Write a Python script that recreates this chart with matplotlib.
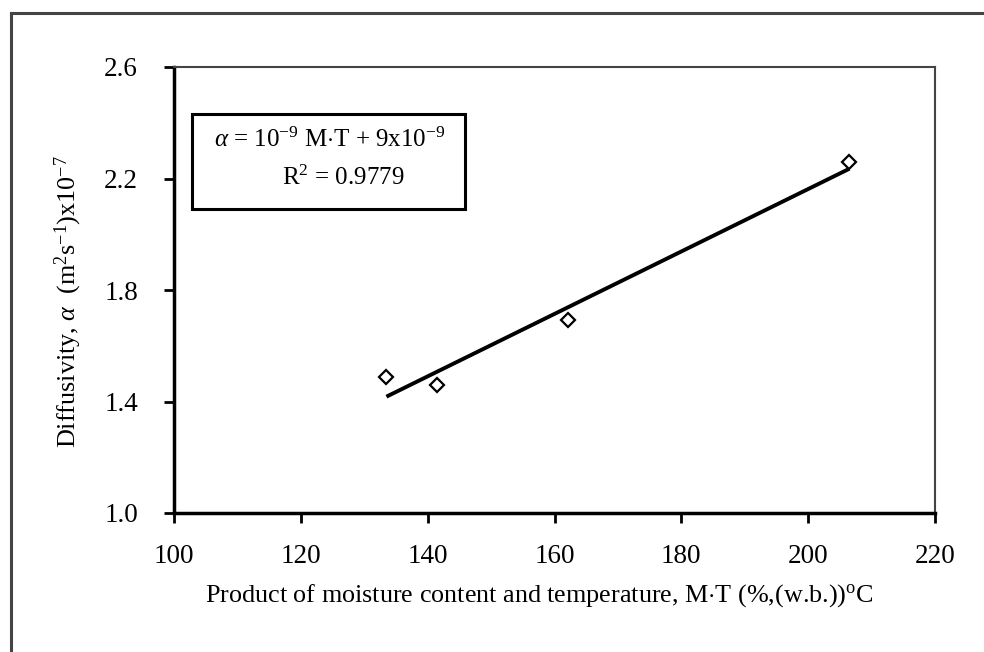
import numpy as np
import matplotlib
matplotlib.use('Agg')
import matplotlib.pyplot as plt
from matplotlib.lines import Line2D
from matplotlib.patches import Rectangle

# values
mt = [133.5, 141.4, 162.1, 206.5]
diffusivity = [1.487, 1.459, 1.692, 2.258]
x_ticks = [100, 120, 140, 160, 180, 200, 220]
y_ticks = [1.0, 1.4, 1.8, 2.2, 2.6]
equation = r'$\alpha$ = 10$^{-9}$ M$\cdot$T + 9x10$^{-9}$'
r2_text = r'R$^2$ = 0.9779'

plt.rcParams['font.family'] = ['Liberation Serif', 'DejaVu Serif']
plt.rcParams['mathtext.fontset'] = 'custom'
plt.rcParams['mathtext.rm'] = 'Liberation Serif'
plt.rcParams['mathtext.it'] = 'Liberation Serif:italic'

fig = plt.figure(figsize=(9.84, 6.52), dpi=100)
W, H = 984, 652
ax = fig.add_axes([174 / W, 1 - 513 / H, (935 - 174) / W, (513 - 67) / H])

# fitted trend line
coef = np.polyfit(mt, diffusivity, 1)
xs = np.array([min(mt), max(mt)])
ax.plot(xs, np.polyval(coef, xs), color='black', lw=2.8, solid_capstyle='butt')
ax.plot(mt, diffusivity, linestyle='none', marker='D', markersize=7,
        markerfacecolor='white', markeredgecolor='black', markeredgewidth=1.6)

ax.set_xlim(100, 220)
ax.set_ylim(1.0, 2.6)
ax.set_xticks(x_ticks)
ax.set_yticks(y_ticks)
ax.set_yticklabels([f'{v:.1f}' for v in y_ticks])
ax.tick_params(direction='out', length=7, width=2, labelsize=19.5, color='black')
ax.tick_params(axis='y', pad=19)
ax.tick_params(axis='x', pad=15)

for s in ['left', 'bottom']:
    ax.spines[s].set_linewidth(2.5)
    ax.spines[s].set_color('black')
for s in ['top', 'right']:
    ax.spines[s].set_linewidth(1.5)
    ax.spines[s].set_color('#444444')

ax.set_xlabel('Product of moisture content and temperature, M$\\cdot$T (%,(w.b.))$^{\\mathrm{o}}$C',
              fontsize=18.8)
ax.xaxis.set_label_coords(0.48, -0.155)
ax.set_ylabel(r'Diffusivity, $\alpha$  (m$^2$s$^{-1}$)x10$^{-7}$', fontsize=18.8)
ax.yaxis.set_label_coords(-0.118, 0.475)

# equation box
box = Rectangle((192 / W, 1 - 209 / H), (465 - 192) / W, (209 - 114) / H,
                transform=fig.transFigure, fill=False, edgecolor='black', lw=2.2)
fig.patches.append(box)
fig.text(330 / W, 1 - 140 / H, equation, ha='center', va='center', fontsize=18)
fig.text(343 / W, 1 - 178 / H, r2_text, ha='center', va='center', fontsize=18)

# outer frame (cut off at right and bottom)
fig.lines.append(Line2D([11 / W, 11 / W], [0, 1 - 13 / H], transform=fig.transFigure,
                        color='#444444', lw=2.2))
fig.lines.append(Line2D([11 / W, 1], [1 - 13 / H, 1 - 13 / H], transform=fig.transFigure,
                        color='#444444', lw=2.2))

fig.savefig('out.png', dpi=100)
